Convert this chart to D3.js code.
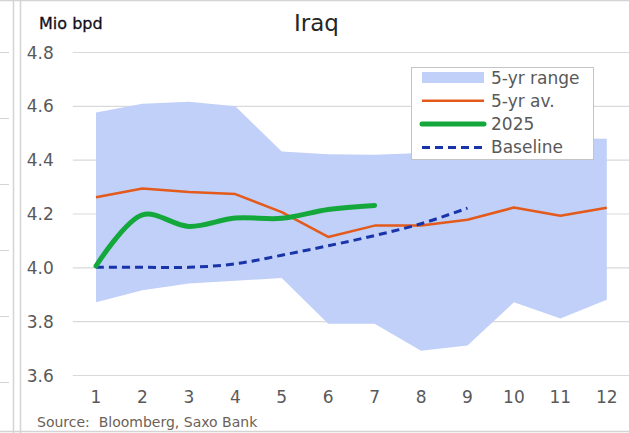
<!DOCTYPE html>
<html>
<head>
<meta charset="utf-8">
<script src="https://cdn.jsdelivr.net/npm/d3@7"></script>
<style>
    body { margin: 0; background: #fff; }
    text { font-family: "DejaVu Sans", Verdana, sans-serif; }
</style>
</head>
<body>
<div id="vis"></div>
<script>
// chart values
var months = [1, 2, 3, 4, 5, 6, 7, 8, 9, 10, 11, 12];
var rangeLow  = [3.87, 3.915, 3.94, 3.95, 3.96, 3.79, 3.79, 3.69, 3.71, 3.87, 3.81, 3.88];
var rangeHigh = [4.575, 4.608, 4.615, 4.598, 4.43, 4.42, 4.418, 4.425, 4.44, 4.46, 4.48, 4.478];
var avg5yr    = [4.26, 4.293, 4.28, 4.272, 4.205, 4.113, 4.155, 4.155, 4.177, 4.222, 4.192, 4.221];
var prod2025  = [4.005, 4.195, 4.152, 4.183, 4.182, 4.215, 4.23];
var baseline  = [4.0, 4.0, 4.0, 4.013, 4.045, 4.08, 4.118, 4.162, 4.22];
var yTicks = [3.6, 3.8, 4.0, 4.2, 4.4, 4.6, 4.8];
var legendItems = ['5-yr range', '5-yr av.', '2025', 'Baseline'];

var W = 629, H = 433;
var margin = {left: 72.8, right: -1, top: 52, bottom: 58};

var svg = d3.select('#vis')
    .append('svg')
    .attr('width', W)
    .attr('height', H);

// spreadsheet leftovers round the chart
var frame = svg.append('g').attr('stroke', '#d4d4d4').attr('fill', 'none');
frame.append('line').attr('x1', 0).attr('x2', W).attr('y1', 0.5).attr('y2', 0.5).attr('stroke-width', 1.5);
frame.append('line').attr('x1', 0).attr('x2', W).attr('y1', 431.5).attr('y2', 431.5).attr('stroke-width', 1.5);
frame.append('line').attr('x1', 13.5).attr('x2', 13.5).attr('y1', 0).attr('y2', H).attr('stroke-width', 1.5);
frame.append('line').attr('x1', 20.5).attr('x2', 20.5).attr('y1', 0).attr('y2', H).attr('stroke-width', 1.5);
[52, 118, 184, 250, 316, 382].forEach(function(y) {
    frame.append('line').attr('x1', 0).attr('x2', 9).attr('y1', y + 0.5).attr('y2', y + 0.5).attr('stroke-width', 1);
});

var xScale = d3.scaleBand()
    .domain(months)
    .range([margin.left, W - margin.right])
    .padding(0);
var xc = function(m) { return xScale(m) + xScale.bandwidth() / 2; };

var yScale = d3.scaleLinear()
    .domain([3.6, 4.8])
    .range([375, 52]);

// gridlines + y labels
var yAxis = d3.axisLeft(yScale)
    .tickValues(yTicks)
    .tickFormat(d3.format('.1f'))
    .tickSize(-(W - margin.left))
    .tickPadding(19);

var gy = svg.append('g')
    .attr('transform', 'translate(' + margin.left + ',0)')
    .call(yAxis);
gy.select('.domain').remove();
gy.selectAll('.tick line').attr('stroke', '#d9d9d9').attr('stroke-width', 1.2);
gy.selectAll('.tick text')
    .attr('fill', '#595959')
    .style('font-size', '17px')
    .attr('dy', '0.36em');

// x labels
var xAxis = d3.axisBottom(xScale)
    .tickSize(0)
    .tickPadding(16);
var gx = svg.append('g')
    .attr('transform', 'translate(0,375)')
    .call(xAxis);
gx.select('.domain').remove();
gx.selectAll('.tick text')
    .attr('fill', '#595959')
    .style('font-size', '17px');

// 5-yr range band
var area = d3.area()
    .x(function(d, i) { return xc(months[i]); })
    .y0(function(d, i) { return yScale(rangeLow[i]); })
    .y1(function(d) { return yScale(d); });

svg.append('path')
    .datum(rangeHigh)
    .attr('d', area)
    .attr('fill', '#c0d0f9');

var lineFlat = d3.line()
    .x(function(d, i) { return xc(months[i]); })
    .y(function(d) { return yScale(d); });

var lineSmooth = d3.line()
    .x(function(d, i) { return xc(months[i]); })
    .y(function(d) { return yScale(d); })
    .curve(d3.curveCatmullRom.alpha(0.5));

svg.append('path')
    .datum(avg5yr)
    .attr('d', lineFlat)
    .attr('fill', 'none')
    .attr('stroke', '#e35a1a')
    .attr('stroke-width', 2.5)
    .attr('stroke-linejoin', 'round');

svg.append('path')
    .datum(baseline)
    .attr('d', lineSmooth)
    .attr('fill', 'none')
    .attr('stroke', '#1834a8')
    .attr('stroke-width', 3)
    .attr('stroke-dasharray', '8,5');

svg.append('path')
    .datum(prod2025)
    .attr('d', lineSmooth)
    .attr('fill', 'none')
    .attr('stroke', '#14a83c')
    .attr('stroke-width', 5)
    .attr('stroke-linecap', 'round')
    .attr('stroke-linejoin', 'round');

// titles
svg.append('text')
    .attr('x', 316.5)
    .attr('y', 31)
    .attr('text-anchor', 'middle')
    .attr('fill', '#262626')
    .style('font-size', '23px')
    .text('Iraq');

svg.append('text')
    .attr('x', 39)
    .attr('y', 29)
    .attr('fill', '#111118')
    .attr('stroke', '#111118')
    .attr('stroke-width', 0.3)
    .style('font-size', '16px')
    .text('Mio bpd');

svg.append('text')
    .attr('x', 37)
    .attr('y', 427)
    .attr('fill', '#6b6257')
    .style('font-size', '14px')
    .attr('xml:space', 'preserve')
    .text('Source:  Bloomberg, Saxo Bank');

// legend
var legend = svg.append('g').attr('transform', 'translate(411,67)');
legend.append('rect')
    .attr('x', 0.5).attr('y', 0.5)
    .attr('width', 182).attr('height', 92)
    .attr('fill', '#fff')
    .attr('stroke', '#c4c4c4')
    .attr('stroke-width', 1);

var rowY = function(i) { return 10.5 + i * 23.3; };

legend.append('rect')
    .attr('x', 11).attr('y', rowY(0) - 5.5)
    .attr('width', 62).attr('height', 11)
    .attr('fill', '#c0d0f9');
legend.append('line')
    .attr('x1', 11).attr('x2', 73).attr('y1', rowY(1)).attr('y2', rowY(1))
    .attr('stroke', '#e35a1a').attr('stroke-width', 2.5);
legend.append('line')
    .attr('x1', 11).attr('x2', 73).attr('y1', rowY(2)).attr('y2', rowY(2))
    .attr('stroke', '#14a83c').attr('stroke-width', 5).attr('stroke-linecap', 'round');
legend.append('line')
    .attr('x1', 11).attr('x2', 73).attr('y1', rowY(3)).attr('y2', rowY(3))
    .attr('stroke', '#1834a8').attr('stroke-width', 3).attr('stroke-dasharray', '8,5');

legend.selectAll('text.leg')
    .data(legendItems)
    .enter().append('text')
    .attr('class', 'leg')
    .attr('x', 80)
    .attr('y', function(d, i) { return rowY(i) + 6; })
    .attr('fill', '#595959')
    .style('font-size', '17px')
    .text(function(d) { return d; });
</script>
</body>
</html>
